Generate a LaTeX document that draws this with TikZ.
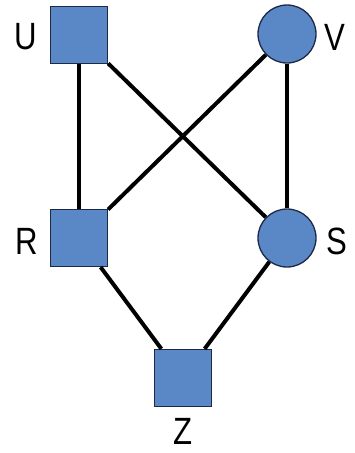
\documentclass[tikz,border=0pt]{standalone}
\usepackage{fontspec}
\setmainfont{Liberation Sans}[FakeStretch=0.82]
\definecolor{nodefill}{HTML}{5A87C6}
\definecolor{nodeedge}{HTML}{1C2A45}
\begin{document}
\begin{tikzpicture}[x=1pt,y=-1pt,
  sq/.style={rectangle,fill=nodefill,draw=nodeedge,line width=1.3pt,minimum size=57pt,inner sep=0pt},
  ci/.style={circle,fill=nodefill,draw=nodeedge,line width=1.3pt,minimum size=58pt,inner sep=0pt},
  lab/.style={font=\fontsize{38}{38}\selectfont,inner sep=0pt,anchor=center},
  edge/.style={line width=4pt,black}]
\useasboundingbox (0,0) rectangle (354,453);
\node[sq] (U) at (79,35) {};
\node[ci] (V) at (287,34) {};
\node[sq] (R) at (79,238) {};
\node[ci] (S) at (287,238) {};
\node[sq] (Z) at (183,378) {};
\draw[edge] (U) -- (R);
\draw[edge] (U) -- (S);
\draw[edge] (V) -- (R);
\draw[edge] (V) -- (S);
\draw[edge] (R) -- (Z);
\draw[edge] (S) -- (Z);
\node[lab] (lU) at (26,37) {U};
\node[lab] (lV) at (335,37) {V};
\node[lab] (lR) at (27,241) {R};
\node[lab] (lS) at (337,241) {S};
\node[lab] (lZ) at (183,431) {Z};
\end{tikzpicture}
\end{document}
